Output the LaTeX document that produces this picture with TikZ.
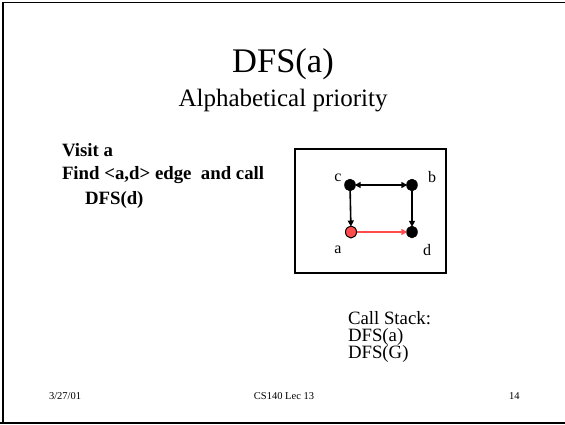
\documentclass[tikz,border=0pt]{standalone}
\usepackage{fontspec}
\setmainfont{Liberation Serif}
\usetikzlibrary{arrows.meta,shapes.geometric}
\begin{document}
\begin{tikzpicture}[x=1pt,y=-1pt,
  txt/.style={anchor=base west,inner sep=0pt,outer sep=0pt},
  ctxt/.style={anchor=base,inner sep=0pt,outer sep=0pt},
  vtx/.style={ellipse,fill=black,draw=black,minimum width=11pt,minimum height=12pt,inner sep=0pt},
  redvtx/.style={vtx,fill=red!70,line width=1pt},
  arr/.style={-{Triangle[length=6pt,width=6pt]},line width=1.6pt,shorten >=-1pt},
  lbl/.style={inner sep=0pt,font=\fontsize{16}{18}\selectfont}
]
\useasboundingbox (0,0) rectangle (565,424);
\draw[line width=1.5pt] (3,424) -- (3,2.5) -- (566,2.5);
\draw[line width=1.5pt] (0,423) -- (566,423);

\node[ctxt,font=\fontsize{34.5}{38}\selectfont] (title) at (283,72) {DFS(a)};
\node[ctxt,font=\fontsize{25}{28}\selectfont] (sub) at (283,106) {Alphabetical priority};

\node[txt,font=\bfseries\fontsize{18.8}{22}\selectfont] (l1) at (62,156) {Visit a};
\node[txt,font=\bfseries\fontsize{18.8}{22}\selectfont] (l2) at (62,179) {Find <a,d> edge\ \ and call};
\node[txt,font=\bfseries\fontsize{18.8}{22}\selectfont] (l3) at (85,204) {DFS(d)};

\node[draw,line width=2pt,minimum width=151pt,minimum height=124pt,inner sep=0pt] (box) at (370,210.5) {};

\node[vtx] (c) at (350,185) {};
\node[vtx] (b) at (412,185) {};
\node[redvtx] (a) at (351,232) {};
\node[vtx] (d) at (412,232) {};

\node[lbl] (lc) at (338,178) {c};
\node[lbl] (lb) at (432,177) {b};
\node[lbl] (la) at (338,250) {a};
\node[lbl] (ld) at (427,250) {d};

\draw[arr,{Triangle[length=6pt,width=6pt]}-{Triangle[length=6pt,width=6pt]},shorten <=-1pt] (c) -- (b);
\draw[arr] (c) -- (a);
\draw[arr] (b) -- (d);
\draw[arr,draw=red!70,fill=red!70] (a) -- (d);

\node[txt,font=\fontsize{18.8}{22}\selectfont] (cs1) at (348,324) {Call Stack:};
\node[txt,font=\fontsize{18.8}{22}\selectfont] (cs2) at (348,341) {DFS(a)};
\node[txt,font=\fontsize{18.8}{22}\selectfont] (cs3) at (348,358) {DFS(G)};

\node[txt,font=\fontsize{10.5}{12}\selectfont] (f1) at (49,399) {3/27/01};
\node[ctxt,font=\fontsize{10.5}{12}\selectfont] (f2) at (284,399) {CS140 Lec 13};
\node[txt,font=\fontsize{10.5}{12}\selectfont] (f3) at (509,399) {14};
\end{tikzpicture}
\end{document}
